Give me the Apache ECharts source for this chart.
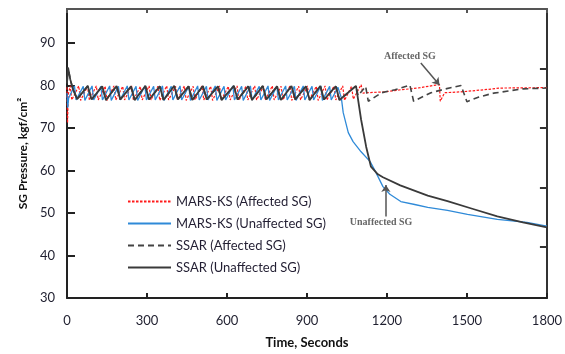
<!DOCTYPE html>
<html>
<head>
<meta charset="utf-8">
<script src="https://cdn.jsdelivr.net/npm/echarts@6/dist/echarts.min.js"></script>
<style>
  html, body { margin: 0; padding: 0; background: #fff; }
  #chart { width: 565px; height: 354px; }
</style>
</head>
<body>
<div id="chart"></div>
<script>
// axis ticks
const xTicks = [0, 300, 600, 900, 1200, 1500, 1800]
const yTicks = [30, 40, 50, 60, 70, 80, 90]
const rightTicks = [42, 56, 70, 84]

// MARS-KS, affected SG  [time, pressure]
const marsAffected = [
  [0, 79.6], [2, 71.2], [5, 78.0], [12, 79.9], [18, 76.6], [44, 79.9], [51, 76.5],
  [77, 79.8], [84, 76.6], [110, 79.9], [117, 76.6], [143, 79.8], [150, 76.5],
  [176, 79.9], [183, 76.6], [209, 79.8], [216, 76.6], [242, 79.9], [249, 76.5],
  [275, 79.8], [282, 76.6], [308, 79.9], [315, 76.6], [341, 79.8], [348, 76.5],
  [374, 79.9], [381, 76.6], [407, 79.8], [414, 76.6], [440, 79.9], [447, 76.5],
  [473, 79.8], [480, 76.6], [506, 79.9], [513, 76.6], [539, 79.8], [546, 76.5],
  [572, 79.9], [579, 76.6], [605, 79.8], [612, 76.6], [638, 79.9], [645, 76.5],
  [671, 79.8], [678, 76.6], [704, 79.9], [711, 76.6], [737, 79.8], [744, 76.5],
  [770, 79.9], [777, 76.6], [803, 79.8], [810, 76.6], [836, 79.9], [843, 76.5],
  [869, 79.8], [876, 76.6], [902, 79.9], [909, 76.6], [935, 79.8], [942, 76.5],
  [968, 79.9], [975, 76.6], [1001, 79.8], [1008, 76.6], [1034, 79.9], [1041, 76.5],
  [1067, 79.8], [1074, 76.8], [1103, 80.2], [1110, 78.2], [1122, 78.3],
  [1193, 78.5], [1252, 79.0], [1316, 79.4], [1383, 80.1], [1397, 80.2],
  [1400, 76.3], [1416, 78.3], [1476, 78.5], [1565, 79.0], [1625, 79.4], [1800, 79.5]
]

// MARS-KS, unaffected SG
const marsUnaffected = [
  [0, 78.2], [3, 74.8], [6, 77.0], [28, 79.9], [34, 76.6], [61, 79.8], [67, 76.5],
  [94, 79.9], [100, 76.6], [127, 79.8], [133, 76.6], [160, 79.9], [166, 76.5],
  [193, 79.8], [199, 76.6], [226, 79.9], [232, 76.6], [259, 79.8], [265, 76.5],
  [292, 79.9], [298, 76.6], [325, 79.8], [331, 76.6], [358, 79.9], [364, 76.5],
  [391, 79.8], [397, 76.6], [424, 79.9], [430, 76.6], [457, 79.8], [463, 76.5],
  [490, 79.9], [496, 76.6], [523, 79.8], [529, 76.6], [556, 79.9], [562, 76.5],
  [589, 79.8], [595, 76.6], [622, 79.9], [628, 76.6], [655, 79.8], [661, 76.5],
  [688, 79.9], [694, 76.6], [721, 79.8], [727, 76.6], [754, 79.9], [760, 76.5],
  [787, 79.8], [793, 76.6], [820, 79.9], [826, 76.6], [853, 79.8], [859, 76.5],
  [886, 79.9], [892, 76.6], [919, 79.8], [925, 76.6], [952, 79.9], [958, 76.5],
  [985, 79.8], [991, 76.6], [1016, 79.6], [1029, 77.1], [1036, 73.6],
  [1055, 68.9], [1073, 66.8], [1103, 64.4], [1137, 62.1], [1159, 59.5],
  [1185, 56.2], [1211, 54.4], [1252, 52.7], [1304, 52.0], [1353, 51.3],
  [1427, 50.6], [1502, 49.7], [1614, 48.5], [1725, 47.8], [1800, 46.9]
]

// SSAR, both SGs before they split
const ssarCommon = [
  [0, 80.5], [4, 84.2], [12, 81.5], [22, 79.2], [38, 76.8],
  [78, 79.9], [92, 76.7], [132, 79.8], [146, 76.6], [186, 79.9], [200, 76.7],
  [240, 79.8], [254, 76.6], [294, 79.9], [308, 76.7], [348, 79.8], [362, 76.6],
  [402, 79.9], [416, 76.7], [456, 79.8], [470, 76.6], [510, 79.9], [524, 76.7],
  [566, 79.8], [580, 76.6], [626, 79.9], [640, 76.7], [680, 79.8], [694, 76.6],
  [734, 79.9], [748, 76.7], [788, 79.8], [802, 76.6], [842, 79.9], [856, 76.7],
  [896, 79.8], [910, 76.6], [950, 79.9], [964, 76.7], [1008, 79.8], [1022, 76.6],
  [1084, 79.9]
]

// SSAR, affected SG after the split
const ssarAffectedLate = [
  [1092, 77.6], [1120, 79.8], [1130, 76.3], [1180, 78.3], [1230, 79.0],
  [1286, 80.1], [1300, 76.3], [1365, 78.3], [1420, 79.2], [1478, 80.0],
  [1500, 76.2], [1545, 77.3], [1600, 78.2], [1655, 78.7], [1710, 79.2], [1800, 79.4]
]

// SSAR, unaffected SG after the split
const ssarUnaffectedLate = [
  [1103, 72.0], [1122, 65.6], [1140, 60.9], [1166, 59.1], [1185, 58.4],
  [1250, 56.5], [1353, 54.1], [1427, 52.8], [1520, 51.0], [1614, 49.2],
  [1710, 47.8], [1800, 46.6]
]

// annotation arrows and labels, data coordinates
const affectedArrow = [[1327, 85.3], [1397, 80.1]]
const unaffectedArrow = [[1196, 49.2], [1196, 56.6]]
const affectedLabel = [1286, 86.8]
const unaffectedLabel = [1178, 47.9]

const chart = echarts.init(document.getElementById('chart'))

const tickFont = { fontFamily: 'Lato', fontSize: 13, color: '#1f1f2f' }
const noteFont = { fontFamily: 'Liberation Serif', fontSize: 10, fontWeight: 'bold', color: '#666' }

chart.setOption({
  animation: false,
  backgroundColor: '#fff',
  grid: { left: 67, right: 15, top: 9, bottom: 55 },
  legend: {
    orient: 'vertical',
    left: 122,
    top: 190,
    itemWidth: 43,
    itemHeight: 10,
    itemGap: 9,
    itemStyle: { opacity: 0 },
    textStyle: { fontFamily: 'Lato', fontSize: 13, color: '#231f33' },
    data: ['MARS-KS (Affected SG)', 'MARS-KS (Unaffected SG)', 'SSAR (Affected SG)', 'SSAR (Unaffected SG)']
  },
  xAxis: [{
    type: 'value',
    min: 0,
    max: 1800,
    interval: 300,
    name: 'Time, Seconds',
    nameLocation: 'middle',
    nameGap: 38,
    nameTextStyle: { fontFamily: 'Lato', fontSize: 13, fontWeight: 'bold', color: '#111' },
    axisLine: { lineStyle: { color: '#222', width: 2 } },
    axisTick: { inside: true, length: 5, lineStyle: { color: '#222', width: 2 } },
    axisLabel: Object.assign({ margin: 16, customValues: xTicks, formatter: v => String(v) }, tickFont),
    splitLine: { show: false }
  }, {
    type: 'value',
    position: 'top',
    min: 0,
    max: 1800,
    interval: 300,
    axisLine: { onZero: false, lineStyle: { color: '#555', width: 2 } },
    axisTick: { inside: true, length: 4, lineStyle: { color: '#555', width: 2 } },
    axisLabel: { show: false },
    splitLine: { show: false }
  }],
  yAxis: [{
    type: 'value',
    min: 30,
    max: 98,
    name: 'SG Pressure, kgf/cm²',
    nameLocation: 'middle',
    nameGap: 38,
    nameTextStyle: { fontFamily: 'Lato', fontSize: 12, fontWeight: 'bold', color: '#111' },
    axisLine: { lineStyle: { color: '#222', width: 2 } },
    axisTick: { inside: true, length: 8, customValues: yTicks, lineStyle: { color: '#222', width: 2 } },
    axisLabel: Object.assign({ margin: 12, customValues: yTicks }, tickFont),
    splitLine: { show: false }
  }, {
    type: 'value',
    position: 'right',
    min: 30,
    max: 98,
    axisLine: { show: true, onZero: false, lineStyle: { color: '#333', width: 2 } },
    axisTick: { show: true, inside: true, length: 7, customValues: rightTicks, lineStyle: { color: '#333', width: 2 } },
    axisLabel: { show: false },
    splitLine: { show: false }
  }],
  series: [{
    name: 'MARS-KS (Affected SG)',
    type: 'line',
    symbol: 'none',
    data: marsAffected,
    lineStyle: { color: '#ff1a1a', width: 1.2, type: [2.5, 1.5] },
    itemStyle: { color: '#ff1a1a' },
    z: 2
  }, {
    name: 'MARS-KS (Unaffected SG)',
    type: 'line',
    symbol: 'none',
    data: marsUnaffected,
    lineStyle: { color: '#2f8ad8', width: 1.3 },
    itemStyle: { color: '#2f8ad8' },
    z: 3
  }, {
    name: 'SSAR (Affected SG)',
    type: 'line',
    symbol: 'none',
    data: ssarCommon.concat(ssarAffectedLate),
    lineStyle: { color: '#444', width: 1.6, type: [6, 4] },
    itemStyle: { color: '#444' },
    z: 4
  }, {
    name: 'SSAR (Unaffected SG)',
    type: 'line',
    symbol: 'none',
    data: ssarCommon.concat(ssarUnaffectedLate),
    lineStyle: { color: '#3a3a3a', width: 1.8 },
    itemStyle: { color: '#3a3a3a' },
    z: 5,
    markLine: {
      silent: true,
      symbol: ['none', 'arrow'],
      symbolSize: 7,
      label: { show: false },
      lineStyle: { color: '#555', width: 1.5, type: 'solid' },
      data: [
        [{ coord: affectedArrow[0] }, { coord: affectedArrow[1] }],
        [{ coord: unaffectedArrow[0] }, { coord: unaffectedArrow[1] }]
      ]
    },
    markPoint: {
      silent: true,
      symbol: 'circle',
      symbolSize: 1,
      itemStyle: { color: 'rgba(0,0,0,0)' },
      label: Object.assign({ show: true, position: 'inside', formatter: '{b}' }, noteFont),
      data: [
        { name: 'Affected SG', coord: affectedLabel },
        { name: 'Unaffected SG', coord: unaffectedLabel }
      ]
    }
  }]
})
</script>
</body>
</html>
